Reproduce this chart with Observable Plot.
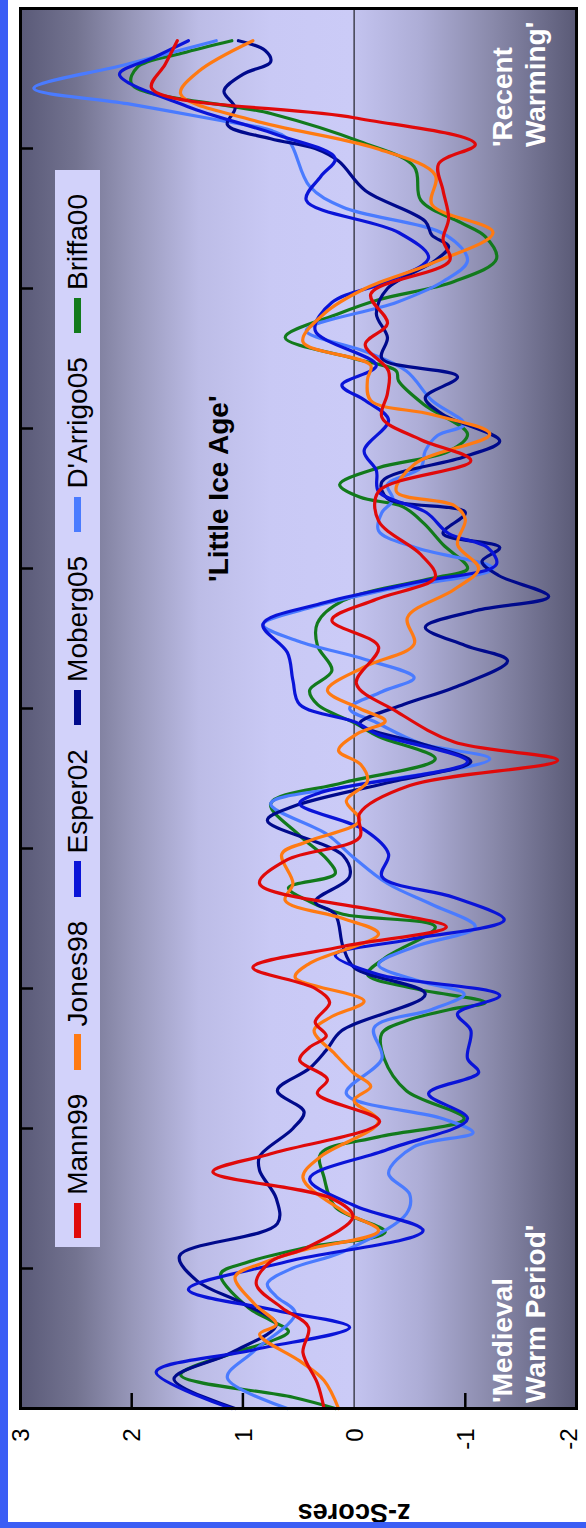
<!DOCTYPE html>
<html>
<head>
<meta charset="utf-8">
<script src="https://cdn.jsdelivr.net/npm/d3@7"></script>
<script src="https://cdn.jsdelivr.net/npm/@observablehq/plot@0.6"></script>
<style>
  html, body { margin: 0; padding: 0; background: #ffffff; }
  #wrap { position: relative; width: 586px; height: 1528px; overflow: hidden; font-family: "Liberation Sans", Arial, sans-serif; }
  #wrap svg { position: absolute; left: 0; top: 0; }
  .edge { position: absolute; background: #3b5ef5; }
  #legend { position: absolute; left: -461px; top: 686px; width: 1077px; height: 45px; background: #d2d2fa;
            transform: rotate(-90deg); display: flex; align-items: center; box-sizing: border-box; padding-left: 9px;
            font-size: 28px; color: #000; white-space: nowrap; }
  #legend .sw { display: inline-block; width: 37px; height: 7px; margin-right: 8px; }
  #legend .lab { margin-right: 24px; line-height: 1; }
</style>
</head>
<body>
<div id="wrap"></div>
<script>
// ---- data ----
const seriesNames = ["Mann99", "Jones98", "Esper02", "Moberg05", "D'Arrigo05", "Briffa00"];
const seriesColors = ["#e00a0a", "#ff7a12", "#0a14d8", "#000a8c", "#4a7bff", "#127a1c"];

const mannYears = [1000,1018,1040,1058,1072,1089,1105,1115,1137,1150,1169,1182,1205,1225,1235,1249,1258,1266,1276,1290,1300,1315,1330,1344,1355,1375,1392,1408,1425,1445,1463,1476,1498,1518,1544,1563,1578,1594,1610,1634,1655,1677,1692,1708,1725,1741,1760,1775,1796,1820,1835,1850,1870,1889,1903,1922,1943,1960,1977];
const mannZ     = [0.27,0.33,0.46,0.41,0.65,0.88,0.75,0.42,0.01,0.2,1.27,0.75,-0.23,0.33,0.24,0.49,0.4,0.25,0.35,0.22,0.35,0.91,0.1,-0.83,-0.25,0.85,0.6,-0.05,-0.05,-0.5,-1.83,-0.9,-0.38,-0.02,-0.22,0.2,-0.2,-0.73,-0.6,-0.22,-0.22,-1.05,-0.6,-0.25,-0.3,-0.31,-0.1,-0.3,-0.15,-0.86,-0.8,-0.85,-0.8,-0.76,-1.09,0.0,1.82,1.7,1.59];

const jonesYears = [1000,1020,1034,1053,1060,1075,1094,1104,1113,1127,1141,1165,1180,1205,1220,1230,1240,1253,1270,1280,1291,1308,1318,1339,1350,1363,1375,1396,1405,1420,1434,1448,1460,1470,1482,1491,1500,1513,1530,1546,1565,1585,1600,1617,1635,1645,1655,1675,1696,1710,1720,1735,1745,1762,1782,1800,1818,1840,1860,1881,1900,1920,1939,1955,1977];
const jonesZ     = [0.14,0.27,0.49,0.85,0.7,0.9,1.07,0.82,0.46,-0.22,0.1,0.46,0.3,-0.22,0.0,-0.15,0.01,0.17,0.36,0.2,-0.09,0.53,0.4,-0.22,0.1,0.62,0.55,0.65,0.42,-0.05,0.07,-0.12,-0.06,0.14,-0.03,-0.28,-0.05,0.24,-0.1,-0.54,-0.48,-0.9,-1.12,-0.93,-1.0,-0.9,-0.38,-0.55,-1.22,-0.7,-0.15,-0.12,-0.15,0.46,0.27,-0.1,-0.7,-1.25,-0.7,-0.73,-0.2,0.9,1.56,1.4,0.91];

const esperYears = [1000,1026,1042,1058,1070,1085,1105,1127,1145,1164,1185,1207,1225,1240,1250,1270,1282,1295,1310,1324,1335,1349,1365,1380,1396,1413,1432,1440,1462,1482,1490,1503,1520,1540,1560,1575,1590,1603,1615,1625,1640,1655,1670,1684,1706,1720,1731,1745,1770,1790,1805,1822,1840,1863,1880,1893,1910,1930,1953,1965,1977];
const esperZ     = [1.1,1.78,0.9,0.04,0.7,1.49,0.6,-0.62,0.0,0.4,-0.3,-1.02,-0.67,-1.12,-1.02,-1.05,-0.93,-1.31,-0.22,0.17,-0.5,-1.35,-0.9,-0.25,-0.31,-0.1,0.49,0.3,-1.02,-0.2,-0.02,0.49,0.55,0.6,0.82,0.3,-0.55,-1.28,-1.2,-0.85,-0.65,-0.22,-0.2,-0.09,-0.31,-0.1,0.11,-0.2,0.35,0.2,-0.3,-0.67,-0.4,0.43,0.3,0.17,0.7,1.5,2.11,1.8,1.49];

const mobergYears = [1000,1021,1040,1060,1075,1091,1109,1132,1150,1170,1180,1200,1212,1227,1243,1256,1270,1296,1315,1330,1353,1362,1380,1395,1420,1430,1447,1462,1475,1489,1503,1515,1534,1545,1558,1570,1580,1595,1605,1615,1625,1640,1650,1662,1680,1691,1710,1722,1737,1750,1765,1782,1800,1820,1830,1838,1848,1870,1891,1900,1907,1917,1929,1941,1953,1962,1970,1977];
const mobergZ     = [1.07,1.62,1.1,0.7,1.0,1.41,1.57,0.69,0.7,0.85,0.85,0.55,0.45,0.69,0.4,0.25,0.11,-0.64,0.0,0.1,0.17,0.35,0.04,0.1,0.78,0.55,-0.3,-1.05,-0.6,-0.05,-0.45,-0.9,-1.38,-1.0,-0.64,-1.1,-1.75,-1.3,-1.15,-1.31,-0.8,-1.0,-0.3,-0.25,-1.0,-1.31,-0.8,-0.64,-0.93,-0.25,-0.3,-0.2,-0.3,-0.73,-0.85,-0.7,-0.64,-0.1,0.14,0.35,0.75,1.14,1.07,1.17,1.0,0.75,0.8,1.04];

const darrigoYears = [1000,1022,1041,1068,1080,1089,1100,1112,1139,1153,1168,1187,1197,1207,1225,1250,1272,1285,1296,1305,1317,1330,1344,1360,1375,1394,1410,1432,1445,1464,1475,1490,1500,1512,1522,1535,1548,1560,1572,1585,1600,1615,1627,1640,1649,1660,1672,1684,1695,1703,1720,1741,1755,1770,1790,1805,1820,1838,1858,1873,1906,1913,1920,1932,1943,1960,1977];
const darrigoZ     = [0.6,1.14,0.9,0.53,0.7,0.78,0.56,0.1,-0.47,-0.5,-0.31,-0.54,-1.07,-0.8,0.07,-0.25,-0.18,-0.7,-0.99,-0.6,-0.22,-0.55,-1.09,-0.7,-0.3,0.01,0.24,0.75,0.0,-1.22,-0.6,-0.2,0.04,-0.25,-0.54,-0.1,0.5,0.82,0.4,-0.3,-1.25,-0.55,-0.22,-0.25,-0.35,-0.3,-0.6,-0.64,-0.75,-0.99,-0.7,-0.47,-0.1,0.43,-0.38,-0.8,-1.02,-0.83,0.1,0.4,0.59,0.75,1.2,2.04,2.88,2.05,1.24];

const briffaYears = [1000,1008,1024,1040,1048,1055,1063,1072,1096,1104,1115,1126,1144,1165,1182,1194,1207,1227,1250,1268,1277,1285,1290,1300,1310,1322,1344,1353,1362,1372,1382,1392,1410,1432,1447,1464,1480,1489,1503,1513,1527,1545,1561,1577,1593,1600,1617,1632,1644,1651,1660,1672,1684,1696,1717,1734,1741,1750,1765,1782,1792,1805,1821,1837,1847,1863,1887,1905,1925,1946,1958,1968,1977];
const briffaZ     = [0.17,0.55,1.56,1.07,0.75,0.59,0.75,0.95,1.2,0.98,0.43,-0.28,0.17,0.27,0.3,-0.22,-0.99,-0.47,-0.27,-0.25,-0.47,-0.86,-1.18,-0.54,-0.12,-0.28,-0.73,0.1,0.4,0.59,0.17,0.24,0.5,0.75,0.1,-0.73,-0.22,-0.02,0.33,0.4,0.2,0.33,0.33,0.1,-0.7,-1.02,-0.8,-0.63,-0.44,-0.05,0.13,-0.22,-0.86,-1.02,-0.63,-0.4,-0.38,0.0,0.62,0.14,-0.22,-0.9,-1.28,-1.18,-0.96,-0.6,-0.54,-0.05,0.75,2.0,1.95,1.55,1.1];

const zTicks = [3, 2, 1, 0, -1, -2];
const zInnerTicks = [2, 1, -1];
const yearTicks = [1100, 1200, 1300, 1400, 1500, 1600, 1700, 1800, 1900];
const axisLabel = "z-Scores";
const annotations = [
  {text: "'Little Ice Age'", z: 1.23, year: 1657, color: "black", anchor: "middle"},
  {text: "'Recent\nWarming'", z: -1.47, year: 1901, color: "white", anchor: "start"},
  {text: "'Medieval\nWarm Period'", z: -1.47, year: 1004, color: "white", anchor: "start"}
];

// ---- build ----
const seriesData = [
  [mannYears, mannZ], [jonesYears, jonesZ], [esperYears, esperZ],
  [mobergYears, mobergZ], [darrigoYears, darrigoZ], [briffaYears, briffaZ]
].map(([ys, zs], i) => ys.map((y, j) => ({series: seriesNames[i], year: y, z: zs[j]})));

const drawOrder = [5, 4, 3, 2, 1, 0]; // Briffa first, Mann on top

const gradientStops = [
  [0, "#5a5a78"], [0.1, "#737390"], [0.2, "#9797b9"], [0.32, "#bcbce6"], [0.45, "#c9c9f5"],
  [0.597, "#cbcbf7"], [0.6, "#c3c3ef"], [0.72, "#adadd6"], [0.85, "#8989aa"], [1, "#5a5a76"]
];

const defsMark = () => {
  const defs = d3.create("svg:defs");
  const g = defs.append("linearGradient").attr("id", "bgGrad")
    .attr("x1", 0).attr("x2", 1).attr("y1", 0).attr("y2", 0);
  gradientStops.forEach(([o, c]) => g.append("stop").attr("offset", o).attr("stop-color", c));
  return defs.node();
};

const tickLabelOpts = {
  x: d => d, text: d => `${d}`, frameAnchor: "bottom", dy: 20, rotate: -90,
  textAnchor: "end", lineAnchor: "middle", fontSize: 24, fill: "#000"
};

const chart = Plot.plot({
  width: 586,
  height: 1528,
  marginLeft: 20,
  marginRight: 10,
  marginTop: 8,
  marginBottom: 120,
  style: {fontFamily: "'Liberation Sans', Arial, sans-serif", background: "transparent", overflow: "visible"},
  x: {domain: [3, -2], axis: null},
  y: {domain: [1000, 2000], axis: null},
  marks: [
    defsMark,
    Plot.frame({fill: "url(#bgGrad)", stroke: null}),
    Plot.ruleX([0], {stroke: "#000", strokeWidth: 1}),
    ...drawOrder.map(i => Plot.line(seriesData[i], {
      x: "z", y: "year", stroke: seriesColors[i], strokeWidth: 3.2, curve: "catmull-rom"
    })),
    ...annotations.map(a => Plot.text([a], {
      x: "z", y: "year", text: "text", rotate: -90, fill: a.color, textAnchor: a.anchor,
      lineAnchor: "middle", fontSize: 28, fontWeight: "bold", lineHeight: 1.2
    })),
    Plot.axisY({anchor: "left", ticks: yearTicks, tickSize: -13, tickFormat: () => "", strokeWidth: 2.5, label: null}),
    Plot.axisX({anchor: "bottom", ticks: zInnerTicks, tickSize: -15, tickFormat: () => "", strokeWidth: 2.5, label: null}),
    Plot.text(zTicks.filter(d => d > -2), {...tickLabelOpts, dx: 1}),
    Plot.text(zTicks.filter(d => d === -2), {...tickLabelOpts, dx: -7}),
    Plot.text([axisLabel], {x: () => 0, frameAnchor: "bottom", dy: 95, rotate: 180, fontSize: 27,
      fontWeight: "bold", fill: "#000"}),
    Plot.frame({stroke: "#000", strokeWidth: 3})
  ]
});

const wrap = document.getElementById("wrap");
wrap.appendChild(chart);

// blue page edges
const left = document.createElement("div");
left.className = "edge"; left.style.cssText = "left:0;top:0;width:8px;height:1528px;";
const bottom = document.createElement("div");
bottom.className = "edge"; bottom.style.cssText = "left:0;top:1522px;width:586px;height:6px;";
wrap.appendChild(left); wrap.appendChild(bottom);

// legend
const legend = document.createElement("div");
legend.id = "legend";
seriesNames.forEach((name, i) => {
  const sw = document.createElement("span");
  sw.className = "sw"; sw.style.background = seriesColors[i];
  const lab = document.createElement("span");
  lab.className = "lab"; lab.textContent = name;
  legend.appendChild(sw); legend.appendChild(lab);
});
wrap.appendChild(legend);
</script>
</body>
</html>
